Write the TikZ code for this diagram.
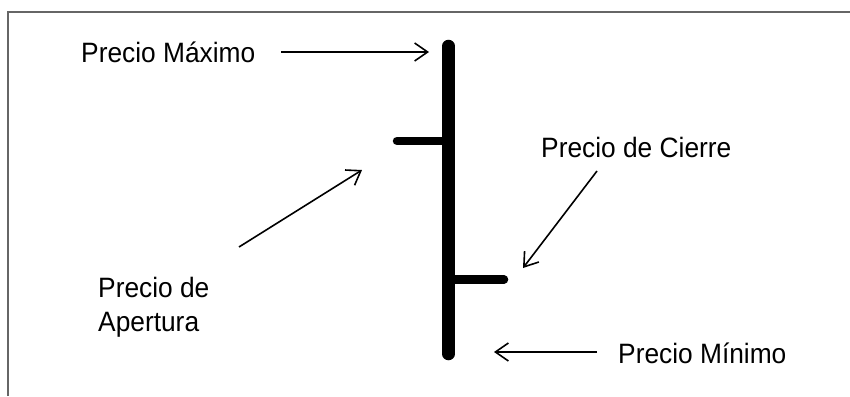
\documentclass[tikz,border=0pt]{standalone}
\usepackage{fontspec}
\setmainfont{Liberation Sans}[FakeStretch=0.94]
\usetikzlibrary{arrows.meta}
\begin{document}
\begin{tikzpicture}[x=1pt,y=-1pt,
  label text/.style={anchor=base west, inner sep=0pt, font=\fontsize{28}{34}\selectfont},
  pointer/.style={line width=1.6pt, -{Straight Barb[length=13pt,width=18pt,line width=1.6pt]}},
  wick/.style={line width=12.5pt, line cap=round},
  tick/.style={line width=8.5pt, line cap=round},
  frameline/.style={draw=black!60, line width=1.5pt}]
  \useasboundingbox (0,0) rectangle (850,396);
  % open frame: top and left edges only
  \coordinate (fbl) at (8,396);
  \coordinate (ftl) at (8,12);
  \coordinate (ftr) at (850,12);
  \draw[frameline] (fbl) -- (ftl) -- (ftr);

  % price bar
  \coordinate (high) at (448.5,46);
  \coordinate (low) at (448.5,354);
  \coordinate (openl) at (397,141);
  \coordinate (openr) at (448.5,141);
  \coordinate (closel) at (448.5,279.5);
  \coordinate (closer) at (504,279.5);
  \draw[wick] (high) -- (low);
  \draw[tick] (openl) -- (openr);
  \draw[tick] (closel) -- (closer);

  % labels
  \node[label text] (tmax) at (81,63) {Precio Máximo};
  \node[label text] (tclose) at (541,157) {Precio de Cierre};
  \node[label text] (topen1) at (98,297) {Precio de};
  \node[label text] (topen2) at (98,331) {Apertura};
  \node[label text] (tmin) at (618,363) {Precio Mínimo};

  % pointers
  \coordinate (amaxs) at (281,52);
  \coordinate (amaxe) at (429,52);
  \coordinate (aopens) at (239,247);
  \coordinate (aopene) at (362,170);
  \coordinate (acloses) at (597,171);
  \coordinate (aclosee) at (523,268);
  \coordinate (amins) at (597,352);
  \coordinate (amine) at (494,352);
  \draw[pointer] (amaxs) -- (amaxe);
  \draw[pointer] (aopens) -- (aopene);
  \draw[pointer] (acloses) -- (aclosee);
  \draw[pointer] (amins) -- (amine);
\end{tikzpicture}
\end{document}
